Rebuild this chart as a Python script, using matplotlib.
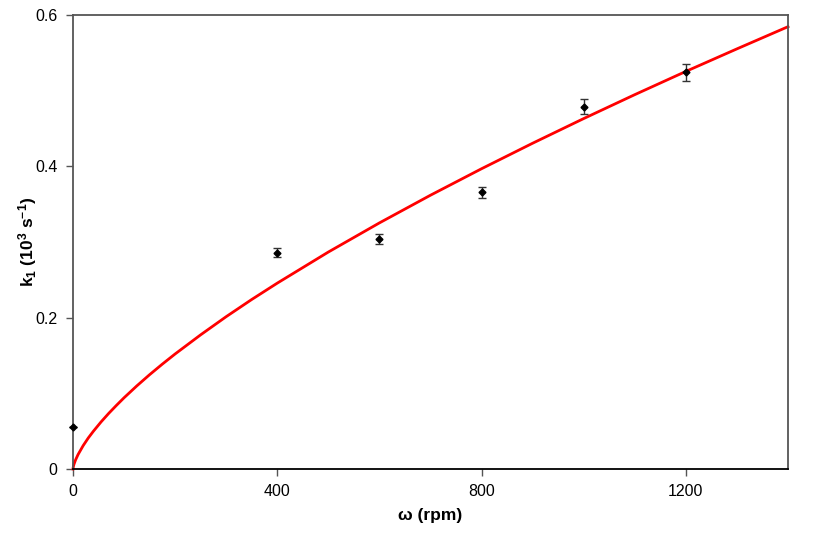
import matplotlib
matplotlib.use("Agg")
import matplotlib.pyplot as plt

plt.rcParams['font.family'] = ['Liberation Sans', 'DejaVu Sans']
plt.rcParams['mathtext.fontset'] = 'custom'
plt.rcParams['mathtext.rm'] = 'Liberation Sans:bold'
plt.rcParams['mathtext.it'] = 'Liberation Sans:bold'
plt.rcParams['mathtext.bf'] = 'Liberation Sans:bold'

# measured points
omega = [0, 400, 600, 800, 1000, 1200]
k1 = [0.0555, 0.286, 0.304, 0.366, 0.479, 0.524]
k1_err = [0.0, 0.0057, 0.0066, 0.0073, 0.0100, 0.0106]

# fitted curve
curve_x = [0, 1, 2, 5, 10, 20, 30, 40, 55, 70, 85, 100, 125, 150, 175, 200, 250,
           300, 350, 400, 500, 600, 700, 800, 900, 1000, 1100, 1200, 1300, 1400]
curve_y = [0.0, 0.0039, 0.0063, 0.0118, 0.0191, 0.0309, 0.0410, 0.0499, 0.0622,
           0.0735, 0.0840, 0.0941, 0.1098, 0.1246, 0.1386, 0.1520, 0.1773,
           0.2013, 0.2240, 0.2456, 0.2867, 0.3252, 0.3618, 0.3968, 0.4305,
           0.4631, 0.4947, 0.5254, 0.5552, 0.5845]

xticks = [0, 400, 800, 1200]
yticks = [0, 0.2, 0.4, 0.6]
yticklabels = ['0', '0.2', '0.4', '0.6']

fig = plt.figure(figsize=(8.18, 5.35), dpi=100)
ax = fig.add_axes([0.0892, 0.1234, 0.8741, 0.8486])

ax.plot(curve_x, curve_y, color='#ff0000', lw=2, zorder=2, clip_on=False)
ax.errorbar(omega, k1, yerr=k1_err, fmt='D', color='black', ms=3.5,
            ecolor='#333333', elinewidth=1, capsize=3, capthick=1, zorder=3,
            clip_on=False)

ax.set_xlim(0, 1400)
ax.set_ylim(0, 0.6)
ax.set_xticks(xticks)
ax.set_xticklabels([str(v) for v in xticks])
ax.set_yticks(yticks)
ax.set_yticklabels(yticklabels)
ax.tick_params(direction='out', length=5, width=1, labelsize=11.5, colors='black',
               pad=6)
ax.tick_params(axis='both', color='#555555')

for s in ['left', 'top', 'right']:
    ax.spines[s].set_color('#555555')
    ax.spines[s].set_linewidth(1.3)
ax.spines['bottom'].set_color('black')
ax.spines['bottom'].set_linewidth(1.3)

ax.set_xlabel('ω (rpm)', fontsize=12.5, fontweight='bold', labelpad=6)
ax.set_ylabel(r'k$_\mathregular{1}$ (10$^\mathregular{3}$ s$^\mathregular{-1}$)',
              fontsize=12.5, fontweight='bold', labelpad=-3)

fig.savefig('out.png', dpi=100)
